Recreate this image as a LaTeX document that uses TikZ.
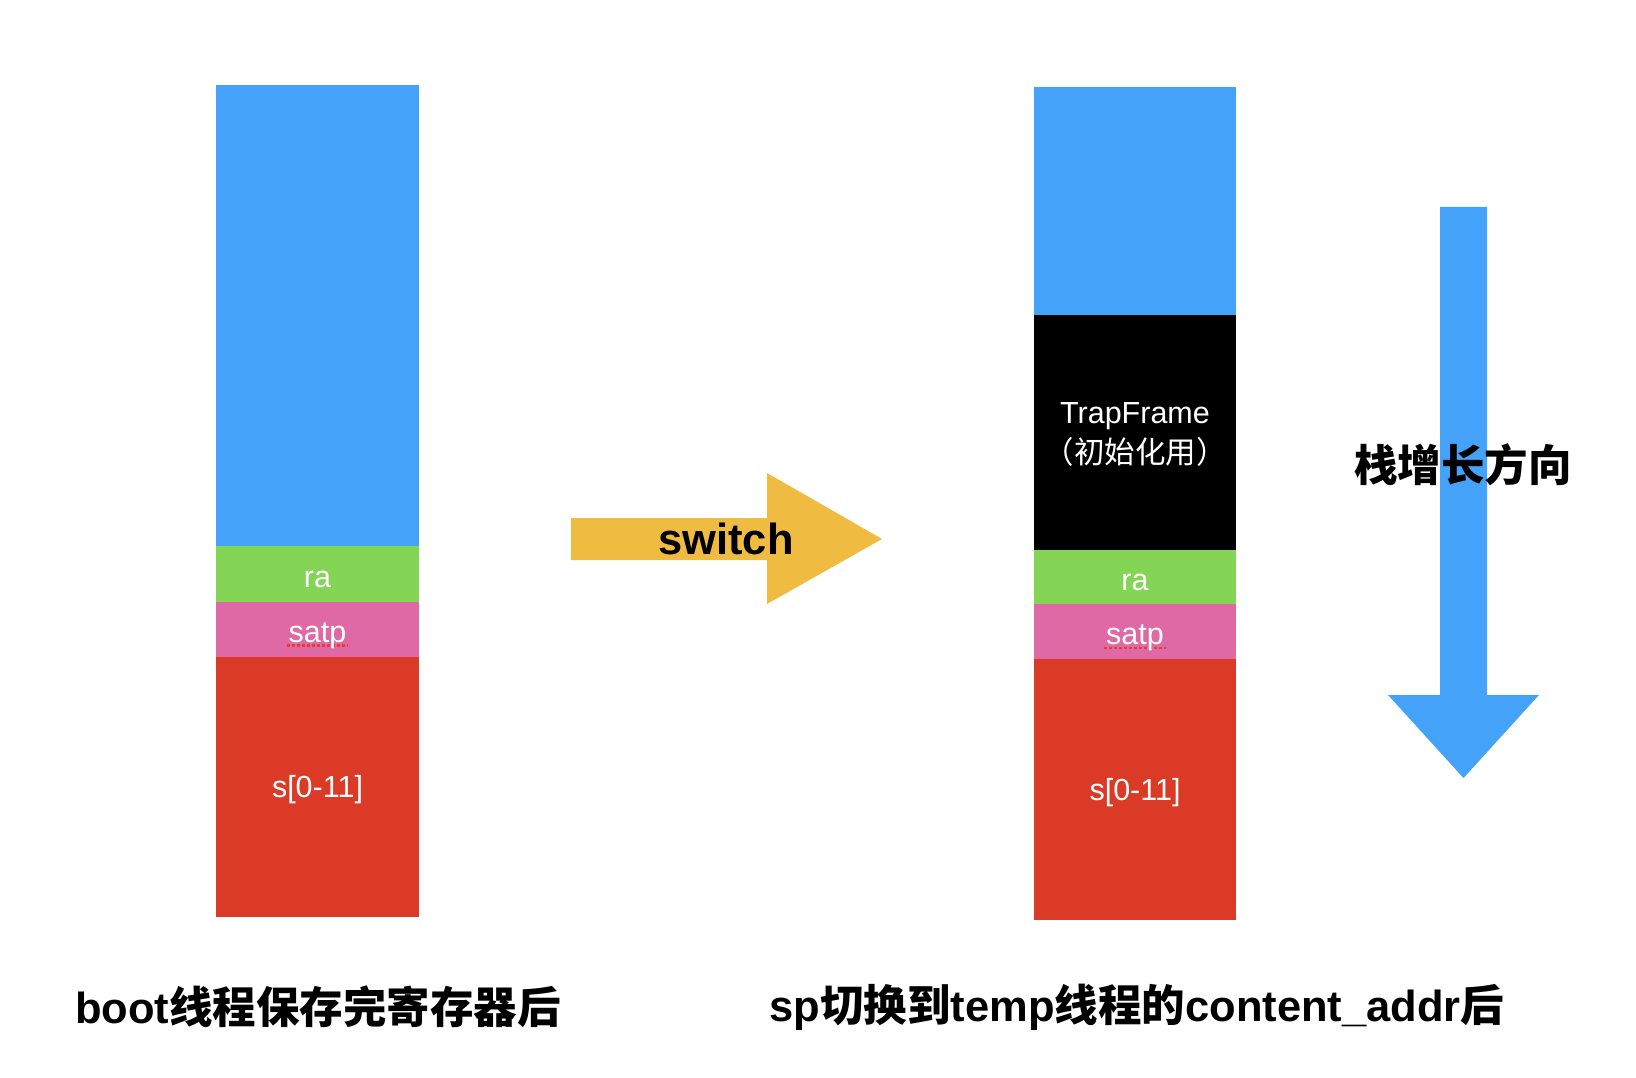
\documentclass[tikz,border=0pt]{standalone}
\usepackage{fontspec}
\setmainfont{Liberation Sans}
\newfontfamily\cjk{Noto Sans CJK SC}
\definecolor{cblue}{RGB}{68,162,248}
\definecolor{cgreen}{RGB}{132,212,85}
\definecolor{cpink}{RGB}{222,105,165}
\definecolor{cred}{RGB}{219,59,38}
\definecolor{cyellow}{RGB}{239,187,64}
\definecolor{cspell}{RGB}{230,60,50}
\begin{document}
\begin{tikzpicture}[x=1pt,y=-1pt,
  seg/.style={inner sep=0pt, outer sep=0pt},
  lbl/.style={inner sep=0pt, outer sep=0pt, text=white, align=center,
    font=\fontsize{30.5}{40}\selectfont},
  captext/.style={inner sep=0pt, outer sep=0pt, text=black,
    font=\fontsize{43.5}{50}\selectfont\bfseries},
  spell/.style={draw=cspell, line width=2.4pt, dash pattern=on 3pt off 2pt}]
\useasboundingbox[fill=white] (0,0) rectangle (1636,1078);
% left column
\node[seg, fill=cblue, minimum width=203pt, minimum height=461pt] (lb) at (317.5,315.5) {};
\node[seg, fill=cgreen, minimum width=203pt, minimum height=56pt] (lg) at (317.5,574) {};
\node[seg, fill=cpink, minimum width=203pt, minimum height=55pt] (lp) at (317.5,629.5) {};
\node[seg, fill=cred, minimum width=203pt, minimum height=260pt] (lr) at (317.5,787) {};
\coordinate (ls1) at (287,645.5);
\coordinate (ls2) at (348,645.5);
\draw[spell] (ls1) -- (ls2);
\node[lbl] (lgt) at ([yshift=-5pt]lg.center) {ra};
\node[lbl] (lpt) at ([yshift=-6pt]lp.center) {satp};
\node[lbl] (lrt) at ([yshift=-3pt]lr.center) {s[0-11]};
% right column
\node[seg, fill=cblue, minimum width=202pt, minimum height=228pt] (rb) at (1135,201) {};
\node[seg, fill=black, minimum width=202pt, minimum height=235pt] (rk) at (1135,432.5) {};
\node[seg, fill=cgreen, minimum width=202pt, minimum height=54pt] (rg) at (1135,577) {};
\node[seg, fill=cpink, minimum width=202pt, minimum height=55pt] (rp) at (1135,631.5) {};
\node[seg, fill=cred, minimum width=202pt, minimum height=261pt] (rr) at (1135,789.5) {};
\coordinate (rs1) at (1104,648);
\coordinate (rs2) at (1166,648);
\draw[spell] (rs1) -- (rs2);
\node[lbl] (rkt) at ([yshift=-2pt]rk.center) {TrapFrame\\{\cjk （初始化用）}};
\node[lbl] (rgt) at ([yshift=-5pt]rg.center) {ra};
\node[lbl] (rpt) at ([yshift=-6pt]rp.center) {satp};
\node[lbl] (rrt) at ([yshift=-3pt]rr.center) {s[0-11]};
% switch arrow
\fill[cyellow] (571,518) -- (767,518) -- (767,473) -- (882,539) -- (767,604) -- (767,560) -- (571,560) -- cycle;
\node[captext] (sw) at (726,539) {switch};
% growth arrow
\fill[cblue] (1440,207) -- (1487,207) -- (1487,695) -- (1539,695) -- (1463.5,778) -- (1388,695) -- (1440,695) -- cycle;
\node[captext] (grow) at (1463,465) {\cjk\bfseries 栈增长方向};
% captions
\node[captext] (capl) at (318,1007) {boot{\cjk\bfseries 线程保存完寄存器后}};
\node[captext] (capr) at (1137,1007) {sp{\cjk\bfseries 切换到}temp{\cjk\bfseries 线程的}content\_addr{\cjk\bfseries 后}};
\end{tikzpicture}
\end{document}
